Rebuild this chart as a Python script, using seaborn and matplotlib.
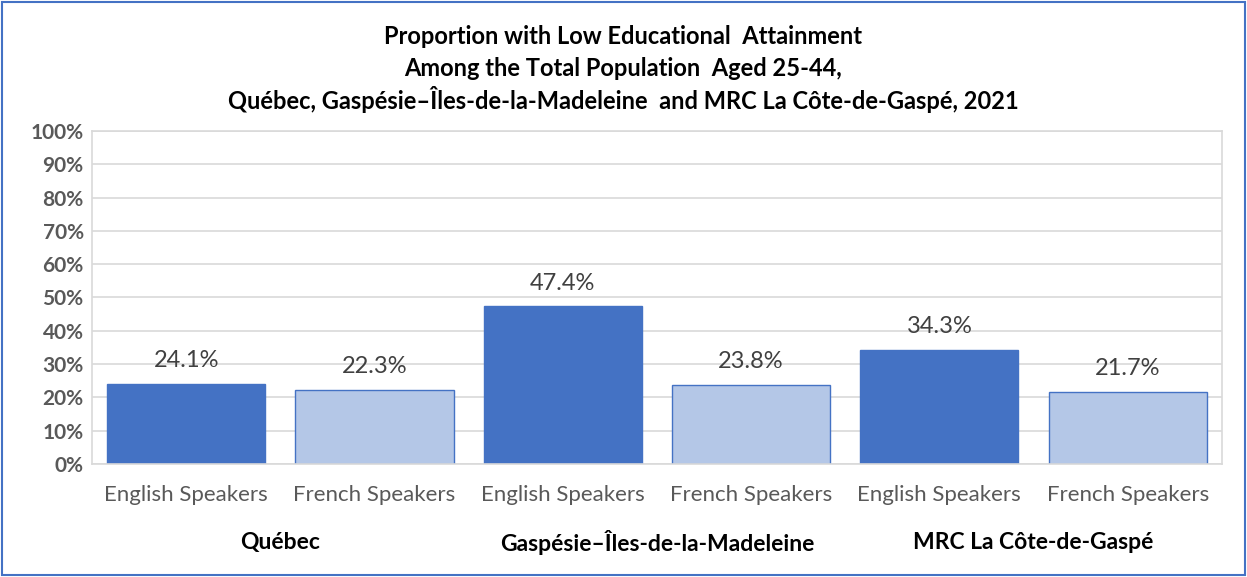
import matplotlib
matplotlib.use("Agg")
import matplotlib.pyplot as plt
import seaborn as sns
import pandas as pd
from matplotlib.patches import Rectangle
from matplotlib.ticker import PercentFormatter

# Data
regions = ['Québec', 'Gaspésie–Îles-de-la-Madeleine', 'MRC La Côte-de-Gaspé']
speakers = ['English Speakers', 'French Speakers']
english = [24.1, 47.4, 34.3]
french = [22.3, 23.8, 21.7]

rows = []
for i, reg in enumerate(regions):
    rows.append({'slot': f'{reg}|E', 'speaker': speakers[0], 'value': english[i]})
    rows.append({'slot': f'{reg}|F', 'speaker': speakers[1], 'value': french[i]})
df = pd.DataFrame(rows)

sns.set_theme(style='white')
plt.rcParams['font.family'] = ['Lato', 'DejaVu Sans']

fig = plt.figure(figsize=(12.47, 5.77), dpi=100)
ax = fig.add_axes([0.0738, 0.196, 0.906, 0.577])

dark = '#4472C4'
light = '#B4C7E7'
sns.barplot(data=df, x='slot', y='value', hue='speaker', dodge=False,
            palette={speakers[0]: dark, speakers[1]: light}, width=0.84,
            saturation=1, edgecolor=dark, linewidth=1.0, legend=False, ax=ax)

ax.set_ylim(0, 100)
ax.set_yticks(range(0, 101, 10))
ax.yaxis.set_major_formatter(PercentFormatter(decimals=0))
ax.grid(axis='y', color='#D9D9D9', linewidth=1.2)
ax.set_axisbelow(True)
for s in ax.spines.values():
    s.set_color('#D9D9D9')
    s.set_linewidth(1.2)
ax.tick_params(axis='y', labelsize=15, labelcolor='#595959', length=0, pad=6)
ax.tick_params(axis='x', labelsize=16, labelcolor='#595959', length=0, pad=15)
ax.set_xticks(range(len(df)))
ax.set_xticklabels(df['speaker'])
for lab in ax.get_yticklabels():
    lab.set_fontweight('bold')
ax.set_xlabel('')
ax.set_ylabel('')

# value labels
for cont in ax.containers:
    ax.bar_label(cont, labels=[f'{v:.1f}%' if v == v else '' for v in cont.datavalues],
                 padding=9, fontsize=17, color='#404040')

# group labels
for i, reg in enumerate(regions):
    ax.text(2 * i + 0.5, -0.235, reg, transform=ax.get_xaxis_transform(),
            ha='center', va='center', fontsize=16.5, fontweight='bold', color='black')

title_lines = ['Proportion with Low Educational  Attainment',
               'Among the Total Population  Aged 25-44,',
               'Québec, Gaspésie–Îles-de-la-Madeleine  and MRC La Côte-de-Gaspé, 2021']
for j, line in enumerate(title_lines):
    fig.text(0.5, 0.937 - 0.055 * j, line, ha='center', va='center',
             fontsize=17, fontweight='bold', color='black')

fig.patches.append(Rectangle((0.002, 0.003), 0.996, 0.994, transform=fig.transFigure,
                             fill=False, edgecolor=dark, linewidth=1.5))

fig.savefig('out.png', dpi=100)
